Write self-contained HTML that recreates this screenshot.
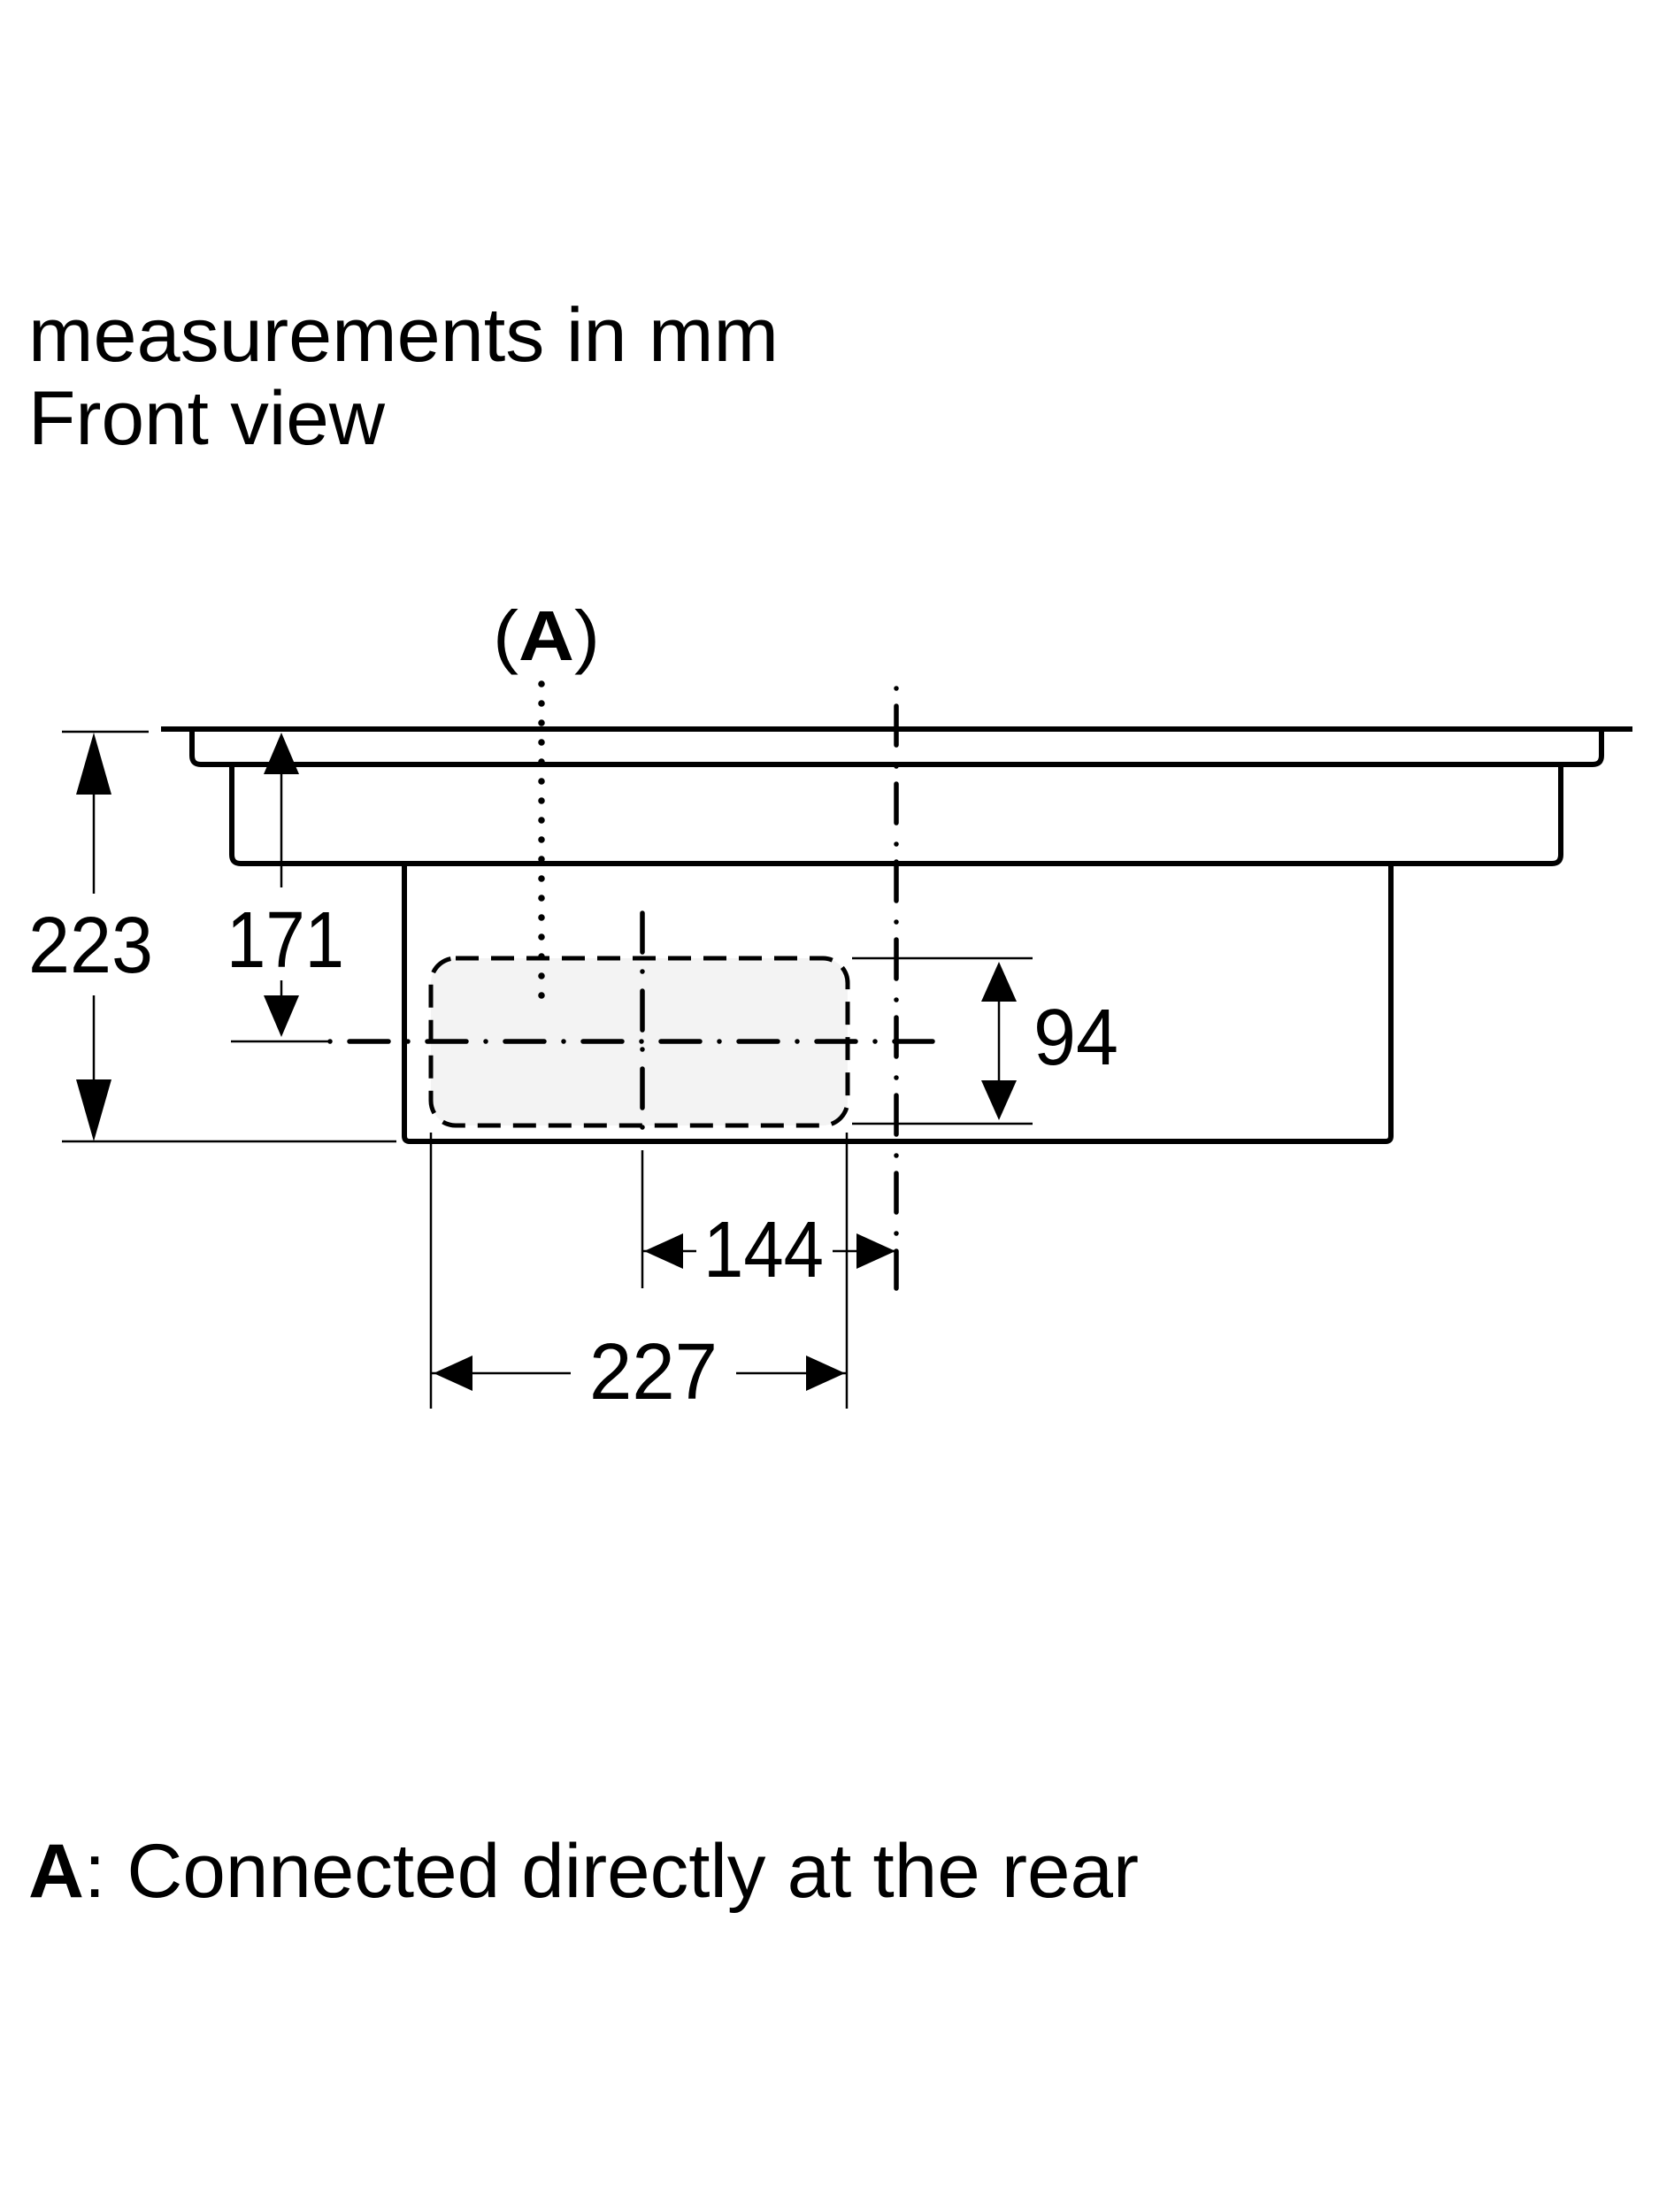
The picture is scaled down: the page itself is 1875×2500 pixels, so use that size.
<!DOCTYPE html>
<html><head><meta charset="utf-8"><style>html,body{margin:0;padding:0;background:#fff}svg{display:block}text{font-family:"Liberation Sans",Arial,sans-serif;fill:#000}</style></head>
<body>
<svg width="1875" height="2500" viewBox="0 0 1875 2500" xmlns="http://www.w3.org/2000/svg">
<rect width="1875" height="2500" fill="#fff"/>
<text x="32" y="408" font-size="86" textLength="848" lengthAdjust="spacingAndGlyphs">measurements in mm</text>
<text x="32" y="502" font-size="86" textLength="403" lengthAdjust="spacingAndGlyphs">Front view</text>
<text x="557" y="746" font-size="80" textLength="121" lengthAdjust="spacingAndGlyphs"><tspan>(</tspan><tspan font-weight="bold">A</tspan><tspan>)</tspan></text>

<rect x="487" y="1083" width="471" height="189" rx="28" fill="#f3f3f3" stroke="#000" stroke-width="5" stroke-dasharray="26 14"/>

<g fill="none" stroke="#000" stroke-width="6" stroke-linejoin="round">
<line x1="182" y1="824" x2="1845" y2="824"/>
<path d="M217 824 V854 Q217 864 227 864 H1800 Q1810 864 1810 854 V824"/>
<path d="M262 864 V966 Q262 976 272 976 H1754 Q1764 976 1764 966 V864"/>
<path d="M457 976 V1284 Q457 1290 463 1290 H1566 Q1572 1290 1572 1284 V976"/>
</g>

<line x1="612" y1="773" x2="612" y2="1140" stroke="#000" stroke-width="7.5" stroke-linecap="round" stroke-dasharray="0 22"/>

<line x1="1013" y1="778" x2="1013" y2="1456" stroke="#000" stroke-width="5.5" stroke-linecap="round" stroke-dasharray="0 20 44 24"/>
<line x1="726" y1="1032" x2="726" y2="1290" stroke="#000" stroke-width="5.5" stroke-linecap="round" stroke-dasharray="44 22 0 22"/>
<line x1="373" y1="1177" x2="1054" y2="1177" stroke="#000" stroke-width="5.5" stroke-linecap="round" stroke-dasharray="0 22 44 22"/>

<g stroke="#000" stroke-width="2.5" fill="none">
<line x1="70" y1="827" x2="168" y2="827"/>
<line x1="70" y1="1290" x2="448" y2="1290"/>
<line x1="106" y1="890" x2="106" y2="1010"/>
<line x1="106" y1="1125" x2="106" y2="1230"/>
<line x1="318" y1="870" x2="318" y2="1003"/>
<line x1="318" y1="1108" x2="318" y2="1135"/>
<line x1="261" y1="1177" x2="373" y2="1177"/>
<line x1="963" y1="1083" x2="1167" y2="1083"/>
<line x1="963" y1="1270" x2="1167" y2="1270"/>
<line x1="1129" y1="1125" x2="1129" y2="1230"/>
<line x1="726" y1="1300" x2="726" y2="1456"/>
<line x1="487" y1="1280" x2="487" y2="1592"/>
<line x1="957" y1="1280" x2="957" y2="1592"/>
<line x1="726" y1="1414" x2="787" y2="1414"/>
<line x1="941" y1="1414" x2="1014" y2="1414"/>
<line x1="488" y1="1552" x2="645" y2="1552"/>
<line x1="832" y1="1552" x2="957" y2="1552"/>
</g>

<g fill="#000">
<polygon points="106,828 86,898 126,898"/>
<polygon points="106,1290 86,1220 126,1220"/>
<polygon points="318,828 298,875 338,875"/>
<polygon points="318,1172 298,1125 338,1125"/>
<polygon points="1129,1087 1109,1132 1149,1132"/>
<polygon points="1129,1266 1109,1221 1149,1221"/>
<polygon points="728,1414 772,1394 772,1434"/>
<polygon points="1012,1414 968,1394 968,1434"/>
<polygon points="490,1552 534,1532 534,1572"/>
<polygon points="955,1552 911,1532 911,1572"/>
</g>

<text x="32" y="1099" font-size="90" textLength="141" lengthAdjust="spacingAndGlyphs">223</text>
<text x="256" y="1093" font-size="90" textLength="133" lengthAdjust="spacingAndGlyphs">171</text>
<text x="1168" y="1203" font-size="90" textLength="96" lengthAdjust="spacingAndGlyphs">94</text>
<text x="795" y="1443" font-size="90" textLength="136" lengthAdjust="spacingAndGlyphs">144</text>
<text x="666" y="1581" font-size="90" textLength="145" lengthAdjust="spacingAndGlyphs">227</text>

<text x="32" y="2144" font-size="86" textLength="1255" lengthAdjust="spacingAndGlyphs"><tspan font-weight="bold">A</tspan><tspan>: Connected directly at the rear</tspan></text>
</svg>
</body></html>
